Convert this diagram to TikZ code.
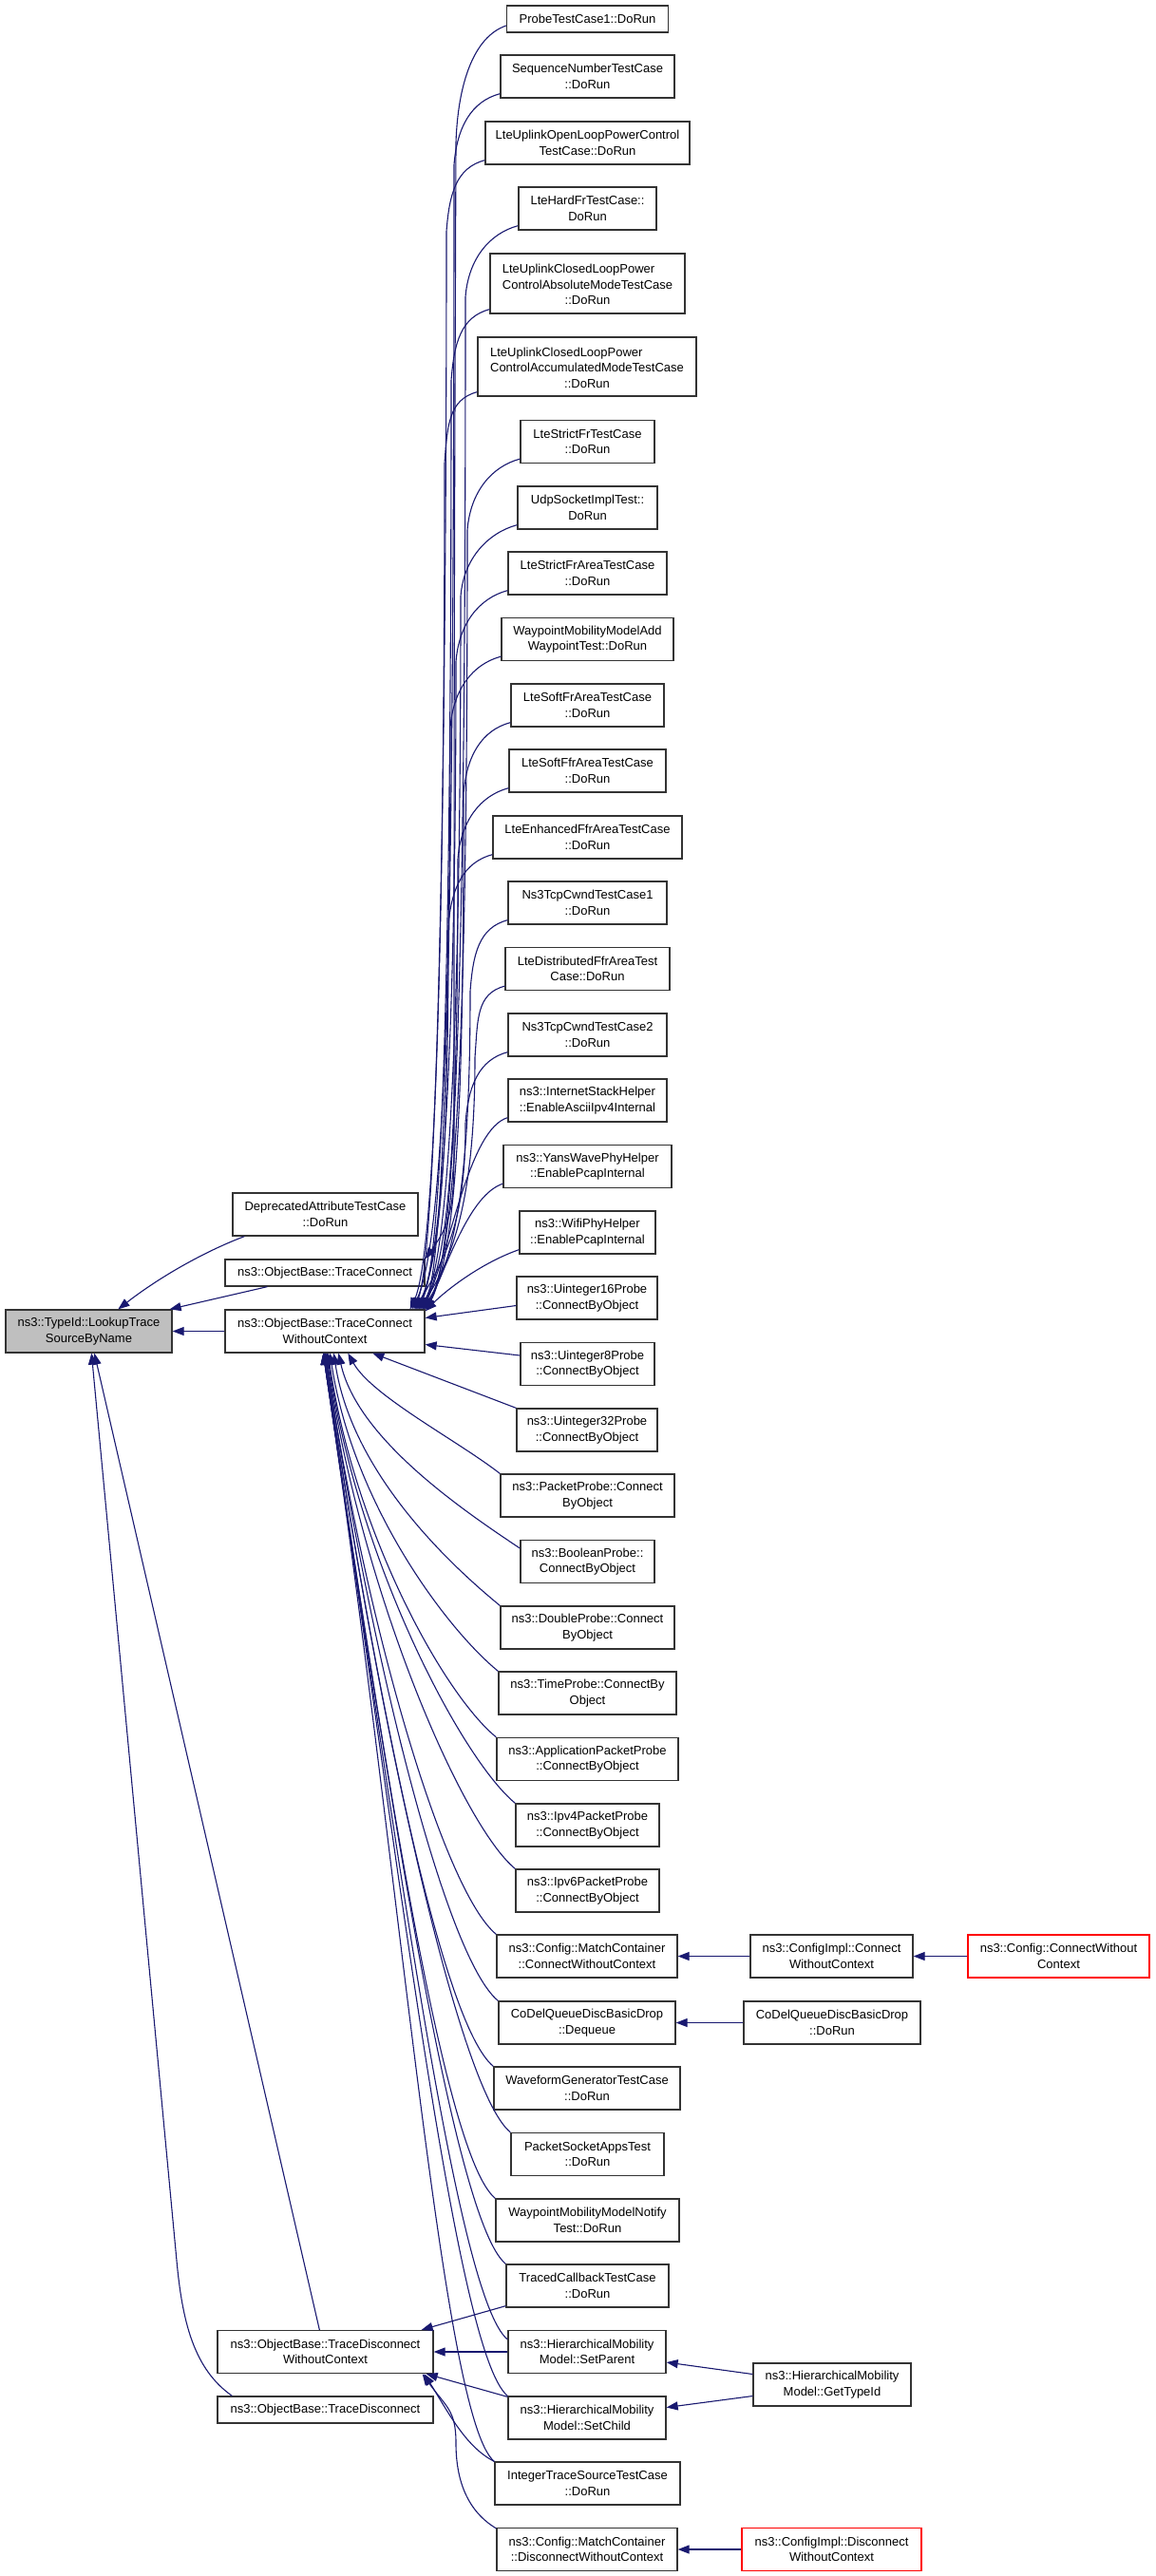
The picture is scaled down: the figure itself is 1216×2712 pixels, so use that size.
\documentclass[tikz,border=0pt]{standalone}
\usepackage{fontspec}
\setmainfont{Liberation Sans}
\usetikzlibrary{arrows.meta,calc}
\definecolor{edgeblue}{RGB}{25,25,112}
\definecolor{boxgray}{RGB}{191,191,191}
\newcommand\upedge[5]{%
  \coordinate (ua) at ($(#1.south west)+(0,70)$);
  \coordinate (ub) at (#2,0);
  \draw[edge] ($(#1.south west)+(0,-5)$) .. controls +(-30,8) and +(3,-40) .. (ub |- ua) .. controls +(0,#3) and +(#5,-60) .. ($(tcwc.north east)+(#4,0)$);
}
\newcommand\downedge[4]{%
  \draw[edge] (#1.north west) .. controls +(-55,-45) and +(#3,#4) .. ($(tcwc.south west)+(#2,0)$);
}
\begin{document}
\begin{tikzpicture}[x=1pt,y=-1pt,
  box/.style={draw=black!80, line width=1.3pt, fill=white, inner sep=0pt, align=center,
    font=\fontsize{13}{16.5}\selectfont, minimum height=45pt},
  redbox/.style={box, draw=red},
  edge/.style={draw=edgeblue, line width=1.1pt, -{Triangle[length=12pt,width=9pt]}},
]
\useasboundingbox (0,0) rectangle (1216,2712);
\fill[white] (0,0) rectangle (1216,2712);

% left column
\node[box, fill=boxgray, minimum width=175pt] (lookup) at (93.5,1401.5) {ns3::TypeId::LookupTrace\\SourceByName};
\node[box, minimum width=195pt] (dep) at (342.5,1278.5) {DeprecatedAttributeTestCase\\::DoRun};
\node[box, minimum width=210pt, minimum height=28pt] (tc) at (342,1340) {ns3::ObjectBase::TraceConnect};
\node[box, minimum width=210pt] (tcwc) at (342,1401.5) {ns3::ObjectBase::TraceConnect\\WithoutContext};
\node[box, minimum width=227pt] (tdwc) at (342.5,2476) {ns3::ObjectBase::TraceDisconnect\\WithoutContext};
\node[box, minimum width=227pt, minimum height=28pt] (td) at (342.5,2537) {ns3::ObjectBase::TraceDisconnect};

% middle column
\node[box, minimum width=170pt, minimum height=28pt] (n1) at (618.5,20) {ProbeTestCase1::DoRun};
\node[box, minimum width=183pt] (n2) at (618.5,80.5) {SequenceNumberTestCase\\::DoRun};
\node[box, minimum width=215pt] (n3) at (618.5,150.5) {LteUplinkOpenLoopPowerControl\\TestCase::DoRun};
\node[box, minimum width=145pt] (n4) at (618.5,219.5) {LteHardFrTestCase::\\DoRun};
\node[box, minimum width=205pt, minimum height=63pt] (n5) at (618.5,298.5) {\begin{tabular}[b]{@{}l@{}}LteUplinkClosedLoopPower\\ControlAbsoluteModeTestCase\end{tabular}\\::DoRun};
\node[box, minimum width=230pt, minimum height=62pt] (n6) at (618,386) {\begin{tabular}[b]{@{}l@{}}LteUplinkClosedLoopPower\\ControlAccumulatedModeTestCase\end{tabular}\\::DoRun};
\node[box, minimum width=141pt] (n7) at (618.5,465) {LteStrictFrTestCase\\::DoRun};
\node[box, minimum width=147pt] (n8) at (618.5,534.5) {UdpSocketImplTest::\\DoRun};
\node[box, minimum width=167pt] (n9) at (618.5,603.5) {LteStrictFrAreaTestCase\\::DoRun};
\node[box, minimum width=181pt] (n10) at (618.5,673) {WaypointMobilityModelAdd\\WaypointTest::DoRun};
\node[box, minimum width=161pt] (n11) at (618.5,742.5) {LteSoftFrAreaTestCase\\::DoRun};
\node[box, minimum width=165pt] (n12) at (618.5,811.5) {LteSoftFfrAreaTestCase\\::DoRun};
\node[box, minimum width=199pt] (n13) at (618.5,881.5) {LteEnhancedFfrAreaTestCase\\::DoRun};
\node[box, minimum width=167pt] (n14) at (618.5,950.5) {Ns3TcpCwndTestCase1\\::DoRun};
\node[box, minimum width=173pt] (n15) at (618.5,1020) {LteDistributedFfrAreaTest\\Case::DoRun};
\node[box, minimum width=167pt] (n16) at (618.5,1089.5) {Ns3TcpCwndTestCase2\\::DoRun};
\node[box, minimum width=167pt] (n17) at (618.5,1158.5) {ns3::InternetStackHelper\\::EnableAsciiIpv4Internal};
\node[box, minimum width=177pt] (n18) at (618.5,1228) {ns3::YansWavePhyHelper\\::EnablePcapInternal};
\node[box, minimum width=143pt] (n19) at (618.5,1297.5) {ns3::WifiPhyHelper\\::EnablePcapInternal};
\node[box, minimum width=148pt] (n20) at (618,1366.5) {ns3::Uinteger16Probe\\::ConnectByObject};
\node[box, minimum width=141pt] (n21) at (618.5,1436) {ns3::Uinteger8Probe\\::ConnectByObject};
\node[box, minimum width=148pt] (n22) at (618,1505.5) {ns3::Uinteger32Probe\\::ConnectByObject};
\node[box, minimum width=183pt] (n23) at (618.5,1574.5) {ns3::PacketProbe::Connect\\ByObject};
\node[box, minimum width=141pt] (n24) at (618.5,1644) {ns3::BooleanProbe::\\ConnectByObject};
\node[box, minimum width=183pt] (n25) at (618.5,1713.5) {ns3::DoubleProbe::Connect\\ByObject};
\node[box, minimum width=187pt] (n26) at (618.5,1782.5) {ns3::TimeProbe::ConnectBy\\Object};
\node[box, minimum width=191pt] (n27) at (618.5,1852) {ns3::ApplicationPacketProbe\\::ConnectByObject};
\node[box, minimum width=151pt] (n28) at (618.5,1921.5) {ns3::Ipv4PacketProbe\\::ConnectByObject};
\node[box, minimum width=151pt] (n29) at (618.5,1990.5) {ns3::Ipv6PacketProbe\\::ConnectByObject};
\node[box, minimum width=190pt] (n30) at (618,2059.5) {ns3::Config::MatchContainer\\::ConnectWithoutContext};
\node[box, minimum width=186pt] (n31) at (618,2129.5) {CoDelQueueDiscBasicDrop\\::Dequeue};
\node[box, minimum width=196pt] (n32) at (618,2198.5) {WaveformGeneratorTestCase\\::DoRun};
\node[box, minimum width=161pt] (n33) at (618.5,2268) {PacketSocketAppsTest\\::DoRun};
\node[box, minimum width=193pt] (n34) at (618.5,2337.5) {WaypointMobilityModelNotify\\Test::DoRun};
\node[box, minimum width=171pt] (n35) at (618.5,2406.5) {TracedCallbackTestCase\\::DoRun};
\node[box, minimum width=166pt] (n36) at (618,2476) {ns3::HierarchicalMobility\\Model::SetParent};
\node[box, minimum width=166pt] (n37) at (618,2545.5) {ns3::HierarchicalMobility\\Model::SetChild};
\node[box, minimum width=195pt] (n38) at (618.5,2614.5) {IntegerTraceSourceTestCase\\::DoRun};
\node[box, minimum width=190pt] (n39) at (618,2684) {ns3::Config::MatchContainer\\::DisconnectWithoutContext};

% right columns
\node[box, minimum width=171pt] (cic) at (875.5,2059.5) {ns3::ConfigImpl::Connect\\WithoutContext};
\node[redbox, minimum width=191pt] (cc) at (1114.5,2059.5) {ns3::Config::ConnectWithout\\Context};
\node[box, minimum width=186pt] (cdr) at (876,2129.5) {CoDelQueueDiscBasicDrop\\::DoRun};
\node[box, minimum width=166pt] (gt) at (876,2510.5) {ns3::HierarchicalMobility\\Model::GetTypeId};
\node[redbox, minimum width=189pt] (cid) at (875.5,2684) {ns3::ConfigImpl::Disconnect\\WithoutContext};

% edges into LookupTraceSourceByName
\draw[edge] ($(dep.south west)+(13,0)$) .. controls +(-40,15) and +(45,-35) .. ($(lookup.north west)+(119,0)$);
\draw[edge] ($(tc.south west)+(45,0)$) -- ($(lookup.north east)+(-3,0)$);
\draw[edge] (tcwc.west) -- (lookup.east);
\draw[edge] ($(tdwc.north west)+(108,0)$) -- ($(lookup.south west)+(94,0)$);
\draw[edge] ($(td.north west)+(16,0)$) .. controls +(-40,-28) and +(6,65) .. (186,2380) -- ($(lookup.south west)+(91,0)$);

% into TraceConnect
\draw[edge] ($(n1.west)+(0,7)$) .. controls +(-35,12) and +(2,-60) .. (480,150) .. controls +(-2,500) and +(0,-450) .. (478,1215) .. controls +(0,60) and +(25,-35) .. (tc.north east);

% into TraceConnectWithoutContext from above
\upedge{n2}{478}{600}{-4}{30}
\upedge{n3}{470}{565}{-12}{25}
\upedge{n4}{490}{530}{0}{38}
\upedge{n5}{475}{490}{-8}{30}
\upedge{n6}{468}{445}{-16}{28}
\upedge{n7}{492}{410}{-2}{40}
\upedge{n8}{485}{375}{-6}{35}
\upedge{n9}{480}{340}{-10}{32}
\upedge{n10}{474}{305}{-14}{30}
\upedge{n11}{488}{270}{-1}{38}
\upedge{n12}{482}{237}{-5}{34}
\upedge{n13}{472}{200}{-9}{28}
\upedge{n14}{495}{165}{-3}{40}
\upedge{n15}{500}{130}{-7}{42}
\upedge{n16}{490}{98}{-11}{36}
\draw[edge] ($(n17.south west)+(0,-5)$) .. controls +(-40,12) and +(30,-70) .. ($(tcwc.north east)+(-2,0)$);
\draw[edge] ($(n18.south west)+(0,-5)$) .. controls +(-35,12) and +(25,-50) .. (tcwc.north east);
\draw[edge] ($(n19.south west)+(0,-5)$) .. controls +(-40,14) and +(22,-22) .. ($(tcwc.north east)+(0,2)$);

% into TraceConnectWithoutContext from the side and below
\draw[edge] ($(n20.west)+(0,8)$) -- ($(tcwc.east)+(0,-14)$);
\draw[edge] ($(n21.west)+(0,-9)$) -- ($(tcwc.east)+(0,14)$);
\draw[edge] (n22.north west) -- ($(tcwc.south west)+(156,0)$);
\draw[edge] (n23.north west) .. controls +(-45,-35) and +(25,45) .. ($(tcwc.south west)+(130,0)$);
\draw[edge] ($(n24.west)+(0,-14)$) .. controls +(-60,-40) and +(20,90) .. ($(tcwc.south west)+(120,0)$);
\downedge{n25}{115}{19}{125}
\downedge{n26}{111}{24}{158}
\downedge{n27}{109}{28}{190}
\downedge{n28}{108}{33}{223}
\downedge{n29}{107}{38}{256}
\downedge{n30}{106}{43}{288}
\downedge{n31}{106}{48}{321}
\downedge{n32}{105}{53}{353}
\downedge{n33}{105}{57}{386}
\downedge{n34}{104}{62}{419}
\downedge{n35}{104}{67}{451}
\draw[edge] ($(n36.west)+(0,-13)$) .. controls +(-55,-45) and +(73,488) .. ($(tcwc.south west)+(104,0)$);
\downedge{n37}{104}{77}{517}
\downedge{n38}{104}{82}{549}

% into TraceDisconnectWithoutContext
\draw[edge] ($(n35.south west)+(0,-2)$) -- ($(tdwc.north east)+(-13,0)$);
\draw[edge] (n36.west) -- (tdwc.east);
\draw[edge] ($(n37.north west)+(0,1)$) -- ($(tdwc.south east)+(-8,0)$);
\draw[edge] (n38.north west) .. controls +(-30,-15) and +(25,40) .. ($(tdwc.south east)+(-10,0)$);
\draw[edge] ($(n39.north west)+(0,1)$) .. controls +(-30,-18) and +(0,40) .. (480,2572) .. controls +(0,-35) and +(25,35) .. ($(tdwc.south east)+(-12,0)$);

% right-hand edges
\draw[edge] (cic.west) -- (n30.east);
\draw[edge] (cc.west) -- (cic.east);
\draw[edge] (cdr.west) -- (n31.east);
\draw[edge] ($(gt.west)+(0,-11)$) -- ($(n36.east)+(0,11)$);
\draw[edge] ($(gt.west)+(0,12)$) -- ($(n37.east)+(0,-11)$);
\draw[edge] (cid.west) -- (n39.east);
\end{tikzpicture}
\end{document}
